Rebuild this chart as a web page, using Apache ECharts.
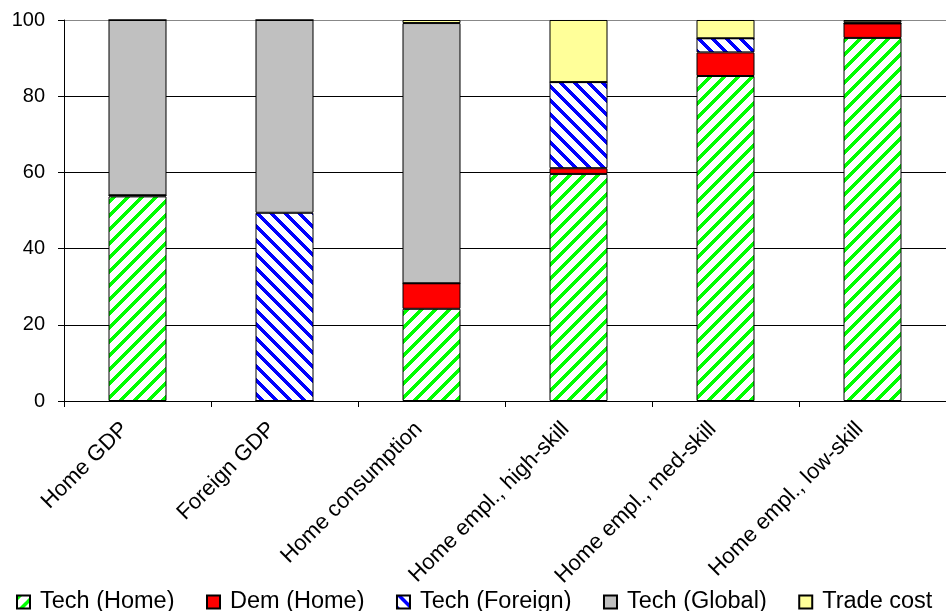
<!DOCTYPE html>
<html><head><meta charset="utf-8">
<script src="https://cdn.jsdelivr.net/npm/echarts@6/dist/echarts.min.js"></script>
<style>html,body{margin:0;padding:0;background:#fff}#c{width:946px;height:611px}</style>
</head><body><div id="c"></div>
<script>
const categories = ['Home GDP', 'Foreign GDP', 'Home consumption', 'Home empl., high-skill', 'Home empl., med-skill', 'Home empl., low-skill'];
const techHome    = [53.7, 0,    24.2, 59.6, 85.3, 95.3];
const demHome     = [0.3,  0,    6.7,  1.5,  6.2,  3.8];
const techForeign = [0,    49.4, 0,    22.6, 3.7,  0];
const techGlobal  = [46.0, 50.6, 68.3, 0,    0,    0.3];
const tradeCost   = [0,    0,    0.8,  16.3, 4.8,  0.6];
const seriesNames = ['Tech (Home)', 'Dem (Home)', 'Tech (Foreign)', 'Tech (Global)', 'Trade cost'];
const yTicks = [0, 20, 40, 60, 80, 100];

function stripes(rgb, dir) {
  const s = 14, w = 5;
  const c = document.createElement('canvas');
  c.width = s; c.height = s;
  const ctx = c.getContext('2d');
  const img = ctx.createImageData(s, s);
  for (let y = 0; y < s; y++) {
    for (let x = 0; x < s; x++) {
      const v = dir > 0 ? (x + y) % s : (((x - y) % s) + s) % s;
      const i = (y * s + x) * 4;
      const on = v < w;
      img.data[i] = on ? rgb[0] : 255;
      img.data[i + 1] = on ? rgb[1] : 255;
      img.data[i + 2] = on ? rgb[2] : 255;
      img.data[i + 3] = 255;
    }
  }
  ctx.putImageData(img, 0, 0);
  return { image: c, repeat: 'repeat' };
}

const fills = [
  stripes([0, 255, 0], 1),
  '#FF0000',
  stripes([0, 0, 255], -1),
  '#C0C0C0',
  '#FFFF99'
];
const values = [techHome, demHome, techForeign, techGlobal, tradeCost];
const FONT = 'Liberation Sans, Arial, sans-serif';

const chart = echarts.init(document.getElementById('c'), null, { renderer: 'canvas' });
chart.setOption({
  animation: false,
  backgroundColor: '#fff',
  grid: { left: 64, right: 0, top: 20, bottom: 210 },
  legend: {
    data: seriesNames,
    left: 11, top: 585,
    itemWidth: 13, itemHeight: 13, itemGap: 31.5,
    icon: 'rect',
    textStyle: { fontSize: 23.5, fontFamily: FONT, color: '#000', padding: [0, 0, 0, 5] }
  },
  xAxis: {
    type: 'category',
    data: categories,
    axisLine: { lineStyle: { color: '#000', width: 1 } },
    axisTick: { show: true, length: 6, lineStyle: { color: '#000' } },
    axisLabel: { rotate: 45, interval: 0, fontSize: 22, fontFamily: FONT, color: '#000', margin: 12, padding: [0, 18, 12, 0] }
  },
  yAxis: {
    type: 'value', min: yTicks[0], max: yTicks[yTicks.length - 1], interval: 20,
    axisLine: { show: true, lineStyle: { color: '#000', width: 1 } },
    axisTick: { show: true, length: 6, lineStyle: { color: '#000' } },
    axisLabel: { fontSize: 20, fontFamily: FONT, color: '#000', margin: 19 },
    splitLine: { show: true, lineStyle: { color: ['#000', '#000', '#000', '#000', '#000', '#888'], width: 1 } }
  },
  series: seriesNames.map((n, k) => ({
    name: n,
    type: 'bar',
    stack: 'total',
    barWidth: 58,
    data: values[k],
    itemStyle: { color: fills[k], borderColor: '#000', borderWidth: 1 }
  }))
});
</script>
</body></html>
